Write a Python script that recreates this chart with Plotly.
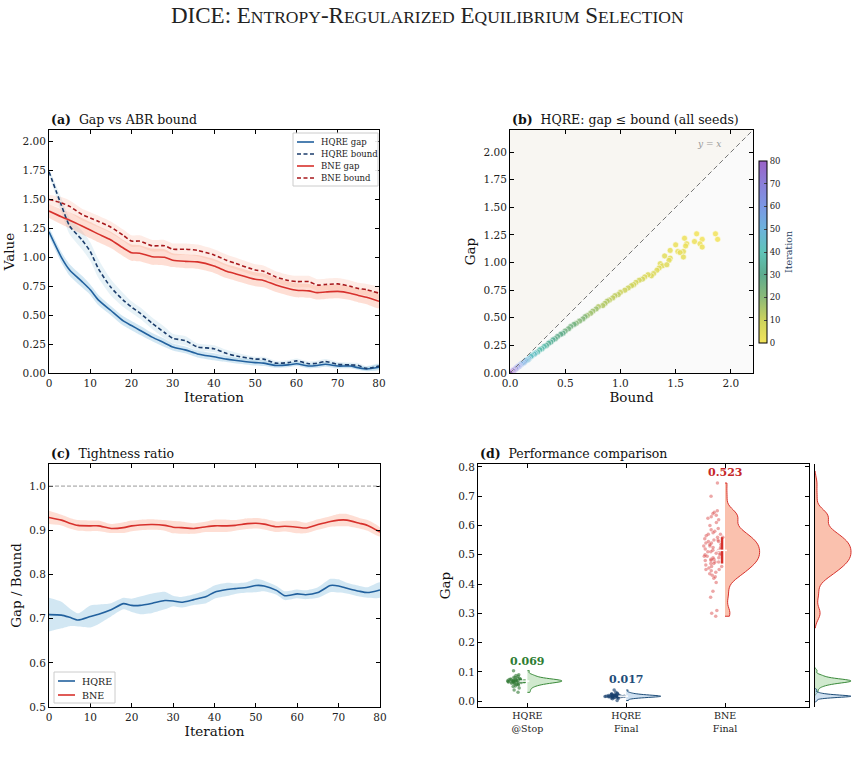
import numpy as np
import plotly.graph_objects as go

W, H = 855, 782
FONT = "DejaVu Serif"

# ---------------- Panel (a): gap vs ABR bound ----------------
iters_a = [0, 3, 5, 8, 10, 12, 15, 18, 20, 22, 25, 28, 30, 33, 36, 40, 43, 45, 50, 52,
           55, 58, 60, 63, 65, 67, 70, 73, 75, 77, 80]
hqre_gap = [1.22, 1.00, 0.89, 0.79, 0.72, 0.63, 0.54, 0.45, 0.41, 0.37, 0.31, 0.26, 0.225, 0.20,
            0.165, 0.14, 0.12, 0.11, 0.09, 0.085, 0.065, 0.07, 0.08, 0.06, 0.065, 0.075, 0.06,
            0.06, 0.045, 0.035, 0.05]
hqre_gap_sd = [0.04, 0.045, 0.05, 0.05, 0.045, 0.045, 0.04, 0.04, 0.04, 0.04, 0.035, 0.035, 0.03,
               0.03, 0.03, 0.03, 0.025, 0.025, 0.025, 0.025, 0.02, 0.02, 0.02, 0.02, 0.02, 0.02,
               0.02, 0.02, 0.02, 0.02, 0.025]
hqre_bound = [1.74, 1.45, 1.27, 1.15, 1.05, 0.90, 0.74, 0.63, 0.57, 0.52, 0.43, 0.35, 0.30, 0.28,
              0.225, 0.21, 0.17, 0.15, 0.12, 0.12, 0.085, 0.09, 0.105, 0.08, 0.085, 0.10, 0.075,
              0.07, 0.065, 0.04, 0.06]
hqre_bound_sd = [0.03, 0.06, 0.07, 0.08, 0.08, 0.08, 0.07, 0.06, 0.05, 0.05, 0.05, 0.05, 0.04,
                 0.04, 0.03, 0.03, 0.03, 0.03, 0.02, 0.02, 0.02, 0.02, 0.02, 0.02, 0.02, 0.02,
                 0.02, 0.02, 0.02, 0.02, 0.02]
bne_gap = [1.40, 1.35, 1.32, 1.27, 1.235, 1.20, 1.15, 1.08, 1.04, 1.035, 1.005, 1.0, 0.975, 0.965,
           0.96, 0.925, 0.88, 0.86, 0.81, 0.80, 0.76, 0.73, 0.715, 0.71, 0.695, 0.70, 0.705, 0.69,
           0.67, 0.655, 0.62]
bne_gap_sd = [0.06, 0.065, 0.07, 0.07, 0.07, 0.07, 0.07, 0.07, 0.07, 0.07, 0.07, 0.07, 0.06, 0.06,
              0.06, 0.06, 0.06, 0.06, 0.06, 0.06, 0.06, 0.06, 0.06, 0.06, 0.06, 0.06, 0.06, 0.06,
              0.06, 0.06, 0.06]
bne_bound = [1.50, 1.47, 1.44, 1.37, 1.34, 1.31, 1.26, 1.19, 1.14, 1.14, 1.10, 1.10, 1.07, 1.07,
             1.06, 1.02, 0.975, 0.95, 0.89, 0.88, 0.83, 0.80, 0.79, 0.79, 0.76, 0.765, 0.77, 0.75,
             0.73, 0.72, 0.69]
bne_bound_sd = [0.04, 0.05, 0.05, 0.05, 0.05, 0.05, 0.05, 0.05, 0.05, 0.05, 0.05, 0.05, 0.05, 0.05,
                0.05, 0.05, 0.05, 0.05, 0.05, 0.05, 0.05, 0.05, 0.05, 0.05, 0.05, 0.05, 0.05, 0.05,
                0.05, 0.05, 0.05]

# ---------------- Panel (b): HQRE scatter (all seeds) ----------------
sc_iter = [0, 0, 0, 0, 1, 1, 1, 1, 2, 2, 2, 2, 3, 3, 3, 3, 4, 4, 4, 4, 5, 5, 5, 5, 6, 6, 6, 6,
           8, 8, 8, 8, 10, 10, 10, 10, 12, 12, 12, 12, 14, 14, 14, 14, 17, 17, 17, 17,
           21, 21, 21, 21, 25, 25, 25, 25, 29, 29, 29, 29, 33, 33, 33, 33, 38, 38, 38, 38,
           43, 43, 43, 43, 48, 48, 48, 48, 54, 54, 54, 54, 60, 60, 60, 60, 66, 66, 66, 66,
           72, 72, 72, 72, 80, 80, 80, 80]
sc_bound = [1.86, 1.88, 1.69, 1.74, 1.58, 1.72, 1.67, 1.74, 1.60, 1.59, 1.52, 1.50,
            1.57, 1.54, 1.57, 1.45, 1.45, 1.40, 1.44, 1.36, 1.38, 1.42, 1.35, 1.33,
            1.30, 1.28, 1.25, 1.22, 1.20, 1.17, 1.14, 1.12, 1.10, 1.07, 1.04, 1.00,
            0.98, 0.95, 0.93, 0.90, 0.88, 0.86, 0.84, 0.80, 0.78, 0.75, 0.73, 0.70,
            0.68, 0.66, 0.63, 0.60, 0.58, 0.55, 0.53, 0.50, 0.48, 0.46, 0.43, 0.41,
            0.39, 0.37, 0.35, 0.33, 0.31, 0.29, 0.27, 0.25, 0.23, 0.22, 0.20, 0.19,
            0.17, 0.16, 0.15, 0.14, 0.13, 0.12, 0.11, 0.10, 0.09, 0.085, 0.08, 0.075,
            0.07, 0.06, 0.055, 0.05, 0.04, 0.035, 0.03, 0.025, 0.015, 0.01, 0.005, 0.0]
sc_gap = [1.26, 1.21, 1.26, 1.21, 1.22, 1.17, 1.19, 1.14, 1.17, 1.15, 1.10, 1.16,
          1.10, 1.09, 1.05, 1.11, 1.04, 1.06, 1.02, 0.99, 0.97, 0.98, 0.95, 0.93,
          0.90, 0.88, 0.89, 0.87, 0.85, 0.84, 0.82, 0.80, 0.79, 0.77, 0.75, 0.73,
          0.71, 0.70, 0.68, 0.66, 0.65, 0.63, 0.61, 0.60, 0.58, 0.56, 0.54, 0.52,
          0.51, 0.49, 0.47, 0.45, 0.44, 0.42, 0.40, 0.38, 0.36, 0.35, 0.33, 0.31,
          0.30, 0.28, 0.27, 0.25, 0.24, 0.22, 0.21, 0.19, 0.18, 0.17, 0.16, 0.15,
          0.13, 0.12, 0.115, 0.11, 0.10, 0.09, 0.085, 0.08, 0.07, 0.065, 0.06, 0.058,
          0.055, 0.047, 0.04, 0.038, 0.03, 0.027, 0.022, 0.019, 0.011, 0.008, 0.004, 0.0]

# ---------------- Panel (c): tightness ratio ----------------
iters_c = [0, 3, 5, 7, 10, 12, 15, 18, 20, 22, 25, 28, 30, 32, 35, 38, 40, 43, 45, 48, 50, 52,
           55, 57, 60, 62, 65, 68, 70, 72, 75, 77, 80]
hqre_ratio = [0.709, 0.708, 0.703, 0.697, 0.705, 0.71, 0.72, 0.734, 0.73, 0.73, 0.735, 0.741,
              0.74, 0.737, 0.743, 0.75, 0.76, 0.766, 0.768, 0.771, 0.775, 0.774, 0.764, 0.752,
              0.756, 0.754, 0.759, 0.775, 0.774, 0.769, 0.762, 0.759, 0.765]
hqre_ratio_sd = [0.038, 0.03, 0.02, 0.015, 0.025, 0.022, 0.015, 0.013, 0.015, 0.02, 0.022, 0.02,
                 0.012, 0.012, 0.012, 0.015, 0.015, 0.015, 0.012, 0.012, 0.015, 0.012, 0.01,
                 0.01, 0.01, 0.01, 0.012, 0.015, 0.015, 0.012, 0.012, 0.012, 0.017]
bne_ratio = [0.929, 0.923, 0.916, 0.911, 0.91, 0.91, 0.904, 0.906, 0.91, 0.912, 0.913, 0.911,
             0.907, 0.906, 0.904, 0.908, 0.91, 0.91, 0.911, 0.915, 0.916, 0.914, 0.908, 0.909,
             0.907, 0.905, 0.913, 0.92, 0.923, 0.923, 0.916, 0.911, 0.896]
bne_ratio_sd = [0.015, 0.012, 0.012, 0.012, 0.012, 0.012, 0.01, 0.012, 0.012, 0.012, 0.012, 0.012,
                0.014, 0.014, 0.012, 0.012, 0.014, 0.014, 0.012, 0.012, 0.012, 0.012, 0.012,
                0.012, 0.014, 0.012, 0.012, 0.012, 0.014, 0.014, 0.012, 0.012, 0.01]

# ---------------- Panel (d): performance comparison ----------------
group_labels = ["HQRE<br>@Stop", "HQRE<br>Final", "BNE<br>Final"]
group_means = [0.069, 0.017, 0.523]
hqre_stop_vals = [0.030, 0.038, 0.045, 0.05, 0.052, 0.055, 0.057, 0.058, 0.06, 0.061, 0.062,
                  0.063, 0.064, 0.065, 0.065, 0.066, 0.067, 0.067, 0.068, 0.068, 0.069, 0.069,
                  0.07, 0.07, 0.071, 0.071, 0.072, 0.072, 0.073, 0.074, 0.075, 0.076, 0.077,
                  0.078, 0.08, 0.082, 0.085, 0.088, 0.09, 0.104]
hqre_final_vals = [0.002, 0.008, 0.01, 0.011, 0.012, 0.013, 0.013, 0.014, 0.014, 0.015, 0.015,
                   0.015, 0.016, 0.016, 0.016, 0.017, 0.017, 0.017, 0.017, 0.018, 0.018, 0.018,
                   0.019, 0.019, 0.02, 0.02, 0.021, 0.021, 0.022, 0.023, 0.024, 0.025, 0.027,
                   0.03, 0.038]
bne_final_vals = [0.29, 0.30, 0.31, 0.355, 0.375, 0.405, 0.42, 0.425, 0.43, 0.435, 0.44, 0.445,
                  0.45, 0.45, 0.455, 0.46, 0.46, 0.465, 0.47, 0.47, 0.475, 0.475, 0.48, 0.48,
                  0.485, 0.485, 0.49, 0.49, 0.495, 0.495, 0.50, 0.50, 0.505, 0.505, 0.51, 0.51,
                  0.515, 0.515, 0.52, 0.52, 0.525, 0.525, 0.53, 0.53, 0.535, 0.535, 0.54, 0.54,
                  0.545, 0.545, 0.55, 0.55, 0.555, 0.56, 0.56, 0.565, 0.57, 0.57, 0.575, 0.58,
                  0.585, 0.59, 0.60, 0.61, 0.62, 0.625, 0.63, 0.635, 0.64, 0.645, 0.65, 0.70,
                  0.745]
group_vals = [hqre_stop_vals, hqre_final_vals, bne_final_vals]

# ---------------- styles ----------------
C_HQ = "#22619e"
C_HQ_B = "#1b3d6c"
C_BN = "#d7312c"
C_BN_B = "#a8191c"
BAND_HQ = "rgba(107,174,214,0.30)"
BAND_BN = "rgba(252,146,114,0.30)"
DASH = "4px,2.5px"
grp_line = ["#3a8a3a", "#1f4e79", "#d7312c"]
grp_fill = ["rgba(170,215,165,0.55)", "rgba(170,200,230,0.55)", "rgba(248,160,130,0.65)"]
grp_pts = ["rgba(46,120,50,0.6)", "rgba(25,65,110,0.65)", "rgba(215,60,60,0.45)"]
grp_txt = ["#2e7d32", "#1f4e79", "#c62828"]
grp_bw = [None, None, 0.02]

cscale = [[0.0, "#f2e35a"], [0.125, "#cdd35c"], [0.25, "#8cba78"], [0.375, "#5eab8e"],
          [0.5, "#5fc4b8"], [0.625, "#6cb3dc"], [0.75, "#7b98e4"], [0.875, "#8a7fd8"],
          [1.0, "#9a62c8"]]


def px_x(p):
    return p / W


def px_y(p):
    return 1 - p / H


fig = go.Figure()


def band(x, m, s, color, xa, ya):
    m = np.array(m)
    s = np.array(s)
    xs = list(x) + list(x)[::-1]
    ys = list(m + s) + list((m - s)[::-1])
    fig.add_trace(go.Scatter(x=xs, y=ys, fill="toself", fillcolor=color, mode="lines",
                             line=dict(width=0, shape="spline", smoothing=0.6),
                             hoverinfo="skip", showlegend=False, xaxis=xa, yaxis=ya))


shapes = []
annotations = []


def manual_legend(box, rows, entries, fsize):
    # box = (x0, y0, x1, y1) in px ; rows = y px ; entries = (name, color, dash)
    x0, y0, x1, y1 = box
    shapes.append(dict(type="rect", xref="paper", yref="paper", x0=px_x(x0), x1=px_x(x1),
                       y0=px_y(y1), y1=px_y(y0), fillcolor="rgba(255,255,255,0.9)",
                       line=dict(color="#cccccc", width=1), layer="above"))
    for (name, col, dash), ry in zip(entries, rows):
        shapes.append(dict(type="line", xref="paper", yref="paper", x0=px_x(x0 + 4),
                           x1=px_x(x0 + 21), y0=px_y(ry), y1=px_y(ry), layer="above",
                           line=dict(color=col, width=1.6, dash=dash)))
        annotations.append(dict(x=px_x(x0 + 26), y=px_y(ry), xref="paper", yref="paper",
                                text=name, xanchor="left", yanchor="middle", showarrow=False,
                                font=dict(family=FONT, size=fsize, color="#222")))


# Panel a
band(iters_a, hqre_bound, hqre_bound_sd, "rgba(158,202,225,0.25)", "x", "y")
band(iters_a, hqre_gap, hqre_gap_sd, BAND_HQ, "x", "y")
band(iters_a, bne_bound, bne_bound_sd, "rgba(252,170,140,0.22)", "x", "y")
band(iters_a, bne_gap, bne_gap_sd, BAND_BN, "x", "y")
entries_a = [("HQRE gap", hqre_gap, C_HQ, "solid"),
             ("HQRE bound", hqre_bound, C_HQ_B, DASH),
             ("BNE gap", bne_gap, C_BN, "solid"),
             ("BNE bound", bne_bound, C_BN_B, DASH)]
for name, ys, col, dash in entries_a:
    fig.add_trace(go.Scatter(x=iters_a, y=ys, mode="lines", name=name, showlegend=False,
                             line=dict(color=col, width=1.6, dash=dash, shape="spline",
                                       smoothing=0.6),
                             xaxis="x", yaxis="y"))
manual_legend((293, 133, 378, 186), [142, 154, 166, 178],
              [(n, c, d) for n, _, c, d in entries_a], 8.5)

# Panel b
LIM = 2.2
fig.add_trace(go.Scatter(x=sc_bound, y=sc_gap, mode="markers", showlegend=False,
                         marker=dict(color=sc_iter, colorscale=cscale, cmin=0, cmax=80, size=6,
                                     opacity=0.85, line=dict(color="white", width=0.6),
                                     colorbar=dict(x=px_x(759), xanchor="left", y=px_y(252),
                                                   yanchor="middle", len=182 / H, lenmode="fraction",
                                                   xpad=0, ypad=0,
                                                   thickness=8, outlinecolor="black", outlinewidth=1,
                                                   tickmode="array", tickvals=list(range(0, 81, 10)),
                                                   ticks="inside", ticklen=3,
                                                   tickfont=dict(family=FONT, size=8.5, color="#222"),
                                                   title=dict(text="Iteration", side="right",
                                                              font=dict(family=FONT, size=9.5)))),
                         xaxis="x2", yaxis="y2"))

# Panel c
band(iters_c, hqre_ratio, hqre_ratio_sd, BAND_HQ, "x3", "y3")
band(iters_c, bne_ratio, bne_ratio_sd, BAND_BN, "x3", "y3")
fig.add_trace(go.Scatter(x=iters_c, y=hqre_ratio, mode="lines", name="HQRE", showlegend=False,
                         line=dict(color=C_HQ, width=1.6, shape="spline", smoothing=0.6),
                         xaxis="x3", yaxis="y3"))
fig.add_trace(go.Scatter(x=iters_c, y=bne_ratio, mode="lines", name="BNE", showlegend=False,
                         line=dict(color=C_BN, width=1.6, shape="spline", smoothing=0.6),
                         xaxis="x3", yaxis="y3"))
manual_legend((54, 672, 115, 703), [681, 695], [("HQRE", C_HQ, "solid"), ("BNE", C_BN, "solid")],
              9.5)

# Panel d raincloud
for i, vals in enumerate(group_vals):
    vkw = dict(bandwidth=grp_bw[i]) if grp_bw[i] else {}
    fig.add_trace(go.Violin(x0=i, y=vals, side="positive", width=0.7, points="all",
                            pointpos=-0.32, jitter=0.3, spanmode="hard", scalemode="width",
                            fillcolor=grp_fill[i], line=dict(color=grp_line[i], width=1),
                            marker=dict(color=grp_pts[i], size=3.5, line=dict(width=0)),
                            box=dict(visible=False), meanline=dict(visible=False),
                            showlegend=False, hoverinfo="skip", xaxis="x4", yaxis="y4", **vkw))
    q1, med, q3 = np.percentile(vals, [25, 50, 75])
    fig.add_trace(go.Scatter(x=[i - 0.03, i - 0.03], y=[q1, q3], mode="lines",
                             line=dict(color=grp_line[i], width=2.5), showlegend=False,
                             hoverinfo="skip", xaxis="x4", yaxis="y4"))
    fig.add_trace(go.Scatter(x=[i - 0.03], y=[med], mode="markers",
                             marker=dict(symbol="line-ew", size=7,
                                         line=dict(color="white", width=1.5)),
                             showlegend=False, hoverinfo="skip", xaxis="x4", yaxis="y4"))
    # marginal KDE panel
    fig.add_trace(go.Violin(x0=0, y=vals, side="positive", width=1.8, points=False,
                            spanmode="soft", scalemode="width",
                            fillcolor=grp_fill[i], line=dict(color=grp_line[i], width=1),
                            box=dict(visible=False), meanline=dict(visible=False),
                            showlegend=False, hoverinfo="skip", xaxis="x5", yaxis="y5", **vkw))

label_offsets = [0.068, 0.056, 0.0]
for i, m in enumerate(group_means):
    yv = max(group_vals[i]) + 0.037 if i == 2 else m + label_offsets[i]
    annotations.append(dict(x=i, y=yv, xref="x4", yref="y4", text="<b>%.3f</b>" % m,
                            showarrow=False, font=dict(family=FONT, size=11, color=grp_txt[i])))

# Panel b annotations
annotations.append(dict(x=1.8, y=2.07, xref="x2", yref="y2", text="<i>y</i> = <i>x</i>",
                        showarrow=False, font=dict(family=FONT, size=9, color="#999")))

# Panel titles
for txt, xp in [("<b>(a)</b>  Gap vs ABR bound", 49), ("<b>(b)</b>  HQRE: gap \u2264 bound (all seeds)", 510)]:
    annotations.append(dict(x=px_x(xp), y=px_y(119), xref="paper", yref="paper", text=txt,
                            xanchor="left", yanchor="middle", showarrow=False,
                            font=dict(family=FONT, size=12.5, color="#111")))
for txt, xp in [("<b>(c)</b>  Tightness ratio", 49), ("<b>(d)</b>  Performance comparison", 478)]:
    annotations.append(dict(x=px_x(xp), y=px_y(453), xref="paper", yref="paper", text=txt,
                            xanchor="left", yanchor="middle", showarrow=False,
                            font=dict(family=FONT, size=12.5, color="#111")))


def sc(word):
    return word[0] + "<span style='font-size:17.5px'>" + word[1:].upper() + "</span>"


title_txt = ("DICE: " + sc("Entropy") + "-" + sc("Regularized") + " " + sc("Equilibrium")
             + " " + sc("Selection"))
annotations.append(dict(x=0.5, y=px_y(15), xref="paper", yref="paper", text=title_txt,
                        showarrow=False, xanchor="center", yanchor="middle",
                        font=dict(family="Liberation Serif", size=23, color="#222")))

shapes_bottom = [
    dict(type="rect", xref="x2 domain", yref="y2 domain", x0=0, y0=0, x1=1, y1=1,
         fillcolor="#fafafa", line=dict(width=0), layer="below"),
    dict(type="path", xref="x2", yref="y2",
         path="M 0 0 L 0 %g L %g %g Z" % (LIM, LIM, LIM),
         fillcolor="#f8f6f2", line=dict(width=0), layer="below"),
    dict(type="line", xref="x2", yref="y2", x0=0, y0=0, x1=LIM, y1=LIM,
         line=dict(color="#777", width=1, dash="5px,3px")),
    dict(type="line", xref="x3 domain", yref="y3", x0=0, x1=1, y0=1.0, y1=1.0,
         line=dict(color="#999", width=1, dash="4px,2px")),
]

tickfont = dict(family=FONT, size=10.5, color="#222")
titlefont = dict(family=FONT, size=13.5, color="#111")


def ax(domain, anchor, rng, **kw):
    d = dict(domain=domain, anchor=anchor, range=rng, showline=True, linecolor="black",
             linewidth=1, mirror="allticks", ticks="inside", ticklen=4, tickwidth=1,
             tickcolor="black", showgrid=False, zeroline=False, tickfont=tickfont,
             automargin=False)
    d.update(kw)
    return d


ya_dom = [px_y(373), px_y(130)]
yc_dom = [px_y(707), px_y(464)]

layout = dict(
    width=W, height=H, margin=dict(l=0, r=0, t=0, b=0, autoexpand=False),
    paper_bgcolor="white", plot_bgcolor="white",
    showlegend=False, violinmode="overlay",
    xaxis=ax([px_x(49), px_x(379)], "y", [0, 80], dtick=10,
             title=dict(text="Iteration", font=titlefont, standoff=2)),
    yaxis=ax(ya_dom, "x", [0, 2.1], dtick=0.25, tickformat=".2f",
             title=dict(text="Value", font=titlefont, standoff=4)),
    xaxis2=ax([px_x(510), px_x(753)], "y2", [0, LIM], dtick=0.5, tickformat=".1f",
              title=dict(text="Bound", font=titlefont, standoff=2)),
    yaxis2=ax(ya_dom, "x2", [0, LIM], dtick=0.25, tickformat=".2f",
              title=dict(text="Gap", font=titlefont, standoff=4)),
    xaxis3=ax([px_x(49), px_x(380)], "y3", [0, 80], dtick=10,
              title=dict(text="Iteration", font=titlefont, standoff=2)),
    yaxis3=ax(yc_dom, "x3", [0.5, 1.05], tickvals=[0.5, 0.6, 0.7, 0.8, 0.9, 1.0],
              tickformat=".1f", title=dict(text="Gap / Bound", font=titlefont, standoff=4)),
    xaxis4=ax([px_x(478), px_x(809)], "y4", [-0.5, 2.85], tickmode="array",
              tickvals=[0, 1, 2], ticktext=group_labels,
              tickfont=dict(family=FONT, size=9.5, color="#222")),
    yaxis4=ax(yc_dom, "x4", [-0.02, 0.81], dtick=0.1, tickformat=".1f",
              title=dict(text="Gap", font=titlefont, standoff=4)),
    xaxis5=dict(domain=[px_x(815), 1.0], anchor="y5", range=[0, 1], visible=False,
                showgrid=False, zeroline=False, automargin=False),
    yaxis5=dict(domain=yc_dom, anchor="x5", range=[-0.02, 0.81], showline=True,
                linecolor="black", linewidth=1, showticklabels=False, ticks="",
                showgrid=False, zeroline=False, automargin=False),
    annotations=annotations,
    shapes=shapes_bottom + shapes,
)
fig.update_layout(**layout)

fig.write_html("out.html")
